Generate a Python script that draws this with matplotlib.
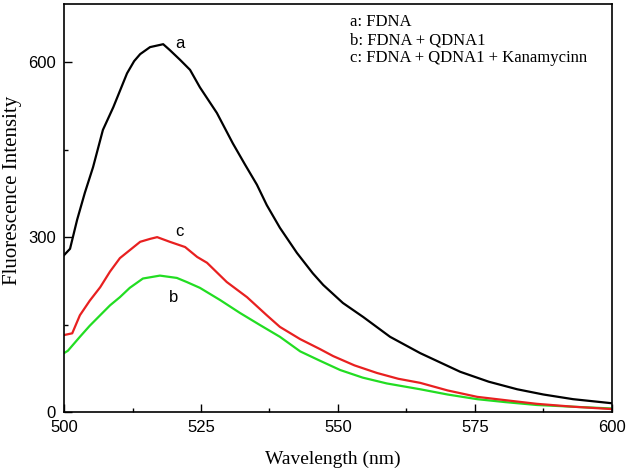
import numpy as np
import matplotlib.pyplot as plt
from matplotlib.ticker import MultipleLocator

# curve a: FDNA
wl_a = [500, 501.1, 502.4, 503.8, 505.3, 507.1, 509, 511.5, 512.8, 513.9, 515.7, 518.1,
        519.3, 521.2, 523, 524.8, 527.9, 530.8, 533, 535.2, 537, 539.4, 542.5,
        545.4, 547.3, 550.9, 554.6, 559.5, 565, 572.3, 577.5, 582.7, 587.5,
        592.9, 600]
int_a = [269, 280, 330, 376, 420, 484, 523, 581, 602, 614, 626, 631,
         621, 604, 587, 557, 513, 461, 425, 390, 355, 316, 273,
         238, 218, 187, 163, 129, 101, 69, 52, 39, 30,
         22, 15]

# curve b: FDNA + QDNA1
wl_b = [500, 500.7, 502.9, 504.7, 506.6, 508.4, 510.2, 512, 514.4, 517.5, 520.6,
        522.4, 524.8, 528.5, 532.1, 535.8, 539.4, 543.1, 546.7, 550.4, 554.5,
        558.9, 565, 570, 575.4, 580.5, 586.3, 593, 600]
int_b = [101, 105, 129, 148, 166, 183, 197, 213, 229, 234, 230,
         223, 213, 192, 170, 149, 129, 104, 88, 72, 59,
         49, 39, 30, 22, 17, 12, 9, 6]

# curve c: FDNA + QDNA1 + Kanamycin
wl_c = [500, 501.5, 502.9, 504.7, 506.6, 508.4, 510.2, 513.9, 515.7, 517, 519.3,
        522.1, 524.3, 526.1, 529.7, 533.4, 537, 539.4, 543.1, 546.7, 549.1,
        553, 557.1, 561, 565, 570, 575.4, 580.8, 586.3, 593, 600]
int_c = [132, 135, 166, 191, 214, 241, 264, 292, 297, 300, 292,
         283, 266, 256, 223, 197, 166, 146, 125, 108, 96,
         80, 67, 57, 50, 37, 26, 20, 14, 9, 5]

legend_lines = ["a: FDNA", "b: FDNA + QDNA1", "c: FDNA + QDNA1 + Kanamycinn"]

fig = plt.figure(figsize=(6.3, 4.74), dpi=100)
ax = fig.add_axes([0.1016, 0.1308, 0.8698, 0.8608])

ax.plot(wl_a, int_a, color="black", lw=1.6)
ax.plot(wl_b, int_b, color="#22dd22", lw=1.6)
ax.plot(wl_c, int_c, color="#e82020", lw=1.6)

ax.set_xlim(500, 600)
ax.set_ylim(0, 700)
ax.xaxis.set_major_locator(MultipleLocator(25))
ax.xaxis.set_minor_locator(MultipleLocator(12.5))
ax.yaxis.set_major_locator(MultipleLocator(300))
ax.yaxis.set_minor_locator(MultipleLocator(150))
ax.tick_params(which="both", direction="in", width=1)
ax.tick_params(which="major", length=6, labelsize=12, pad=6)
ax.tick_params(which="minor", length=3)
for lab in ax.get_xticklabels() + ax.get_yticklabels():
    lab.set_family("Liberation Sans")
for s in ax.spines.values():
    s.set_linewidth(1.2)

ax.set_xlabel("Wavelength (nm)", family="Liberation Serif", fontsize=14)
ax.set_ylabel("Fluorescence Intensity", family="Liberation Serif", fontsize=15)
ax.xaxis.set_label_coords(0.49, -0.096)
ax.yaxis.set_label_coords(-0.077, 0.544)

ax.text(521.2, 633, "a", family="Liberation Sans", fontsize=12, ha="center", va="center")
ax.text(521.0, 309, "c", family="Liberation Sans", fontsize=12, ha="center", va="center")
ax.text(520.0, 197, "b", family="Liberation Sans", fontsize=12, ha="center", va="center")

for i, t in enumerate(legend_lines):
    ax.text(552.2, 669 - i * 31, t, family="Liberation Serif", fontsize=12, va="center")

fig.savefig("out.png", dpi=100)
